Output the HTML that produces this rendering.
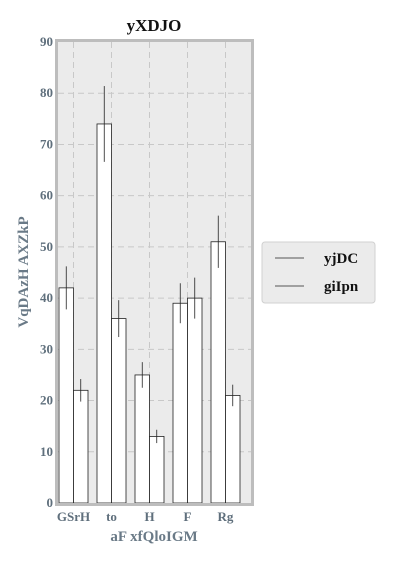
<!DOCTYPE html>
<html><head><meta charset="utf-8"><style>
body{margin:0;background:#fff;width:400px;height:560px;overflow:hidden}
svg text{font-family:"Liberation Serif",serif;font-weight:bold}
</style></head><body>
<svg id="c" width="400" height="560" xmlns="http://www.w3.org/2000/svg"></svg>
<script>
const categories=["GSrH","to","H","F","Rg"];
const seriesNames=["yjDC","giIpn"];
const series1=[42,74,25,39,51];
const series2=[22,36,13,40,21];
const err1=[4.2,7.4,2.5,3.9,5.1];
const err2=[2.2,3.6,1.3,4.0,2.1];
const yTicks=[0,10,20,30,40,50,60,70,80,90];

const svg=document.getElementById('c');
const NS="http://www.w3.org/2000/svg";
const L=58,R=251,T=42,B=503;
const y=v=>B-(v/90)*(B-T);
const x=i=>73.5+38*i;
const bw=14.5;
function mk(tag,attrs,parent){const e=document.createElementNS(NS,tag);for(const k in attrs)e.setAttribute(k,attrs[k]);(parent||svg).appendChild(e);return e;}

const bg=mk('rect',{x:L,y:T,width:R-L,height:B-T,fill:'#ebebeb'});



yTicks.forEach(t=>{
  if(t>0&&t<90){const g=mk('line',{x1:L,x2:R,y1:y(t),y2:y(t),stroke:'#c8c8c8','stroke-dasharray':'6,4','stroke-width':1});
  
  }
  const tx=mk('text',{x:53,y:y(t)+4,'text-anchor':'end','font-size':13,fill:'#5f6f7c'});
  tx.textContent=t;
  
  
});
categories.forEach((c,i)=>{
  const g=mk('line',{x1:x(i),x2:x(i),y1:T,y2:B,stroke:'#c8c8c8','stroke-dasharray':'6,4','stroke-width':1});
  
  
  const tx=mk('text',{x:x(i),y:521,'text-anchor':'middle','font-size':13,fill:'#5f6f7c'});
  tx.textContent=c;
  
  
});
function bars(vals,errs,off,name){
  vals.forEach((v,i)=>{
    const bx=x(i)+off;
    const r=mk('rect',{x:bx,y:y(v),width:bw,height:B-y(v),fill:'#fff',stroke:'#222','stroke-width':0.8});
    
    
    const e=mk('line',{x1:bx+bw/2,x2:bx+bw/2,y1:y(v-errs[i]),y2:y(v+errs[i]),stroke:'#222','stroke-width':0.8});
    
    
  });
}
bars(series1,err1,-bw,'series1');
bars(series2,err2,0,'series2');

const fr=mk('rect',{x:L-1.5,y:T-1.5,width:R-L+3,height:B-T+3,fill:'none',stroke:'#bdbdbd','stroke-width':3});



const title=mk('text',{x:154,y:31,'text-anchor':'middle','font-size':17,fill:'#111'});
title.textContent='yXDJO';


const xt=mk('text',{x:154,y:541,'text-anchor':'middle','font-size':15,fill:'#6a7a87'});
xt.textContent='aF xfQloIGM';


const yt=mk('text',{x:0,y:0,'text-anchor':'middle','font-size':15,fill:'#6a7a87',transform:'translate(28,272) rotate(-90)'});
yt.textContent='VqDAzH AXZkP';



const lg=mk('rect',{x:262,y:242,width:113,height:61,rx:3,fill:'#ebebeb',stroke:'#d0d0d0','stroke-width':1});


seriesNames.forEach((n,i)=>{
  const ly=258+i*28;
  const l=mk('line',{x1:275,x2:304,y1:ly,y2:ly,stroke:'#222','stroke-width':0.8});
  
  
  const t=mk('text',{x:324,y:ly+5,'font-size':15,fill:'#111'});
  t.textContent=n;
  
  
});
</script>
</body></html>
